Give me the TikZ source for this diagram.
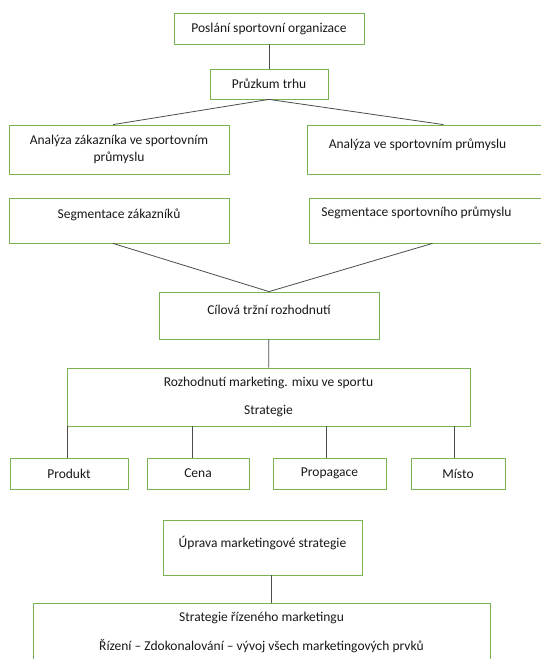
\documentclass[tikz,border=0pt]{standalone}
\usepackage{fontspec}
\setmainfont{Carlito}
\usepackage{xcolor}
\definecolor{BoxGreen}{RGB}{122,180,82}
\colorlet{LineGray}{black!70}
\colorlet{TextGray}{black!90}
\tikzstyle{stepBox}=[draw=BoxGreen,line width=0.8pt,fill=white,inner sep=2pt,text=TextGray,align=center]
\tikzstyle{boxText}=[anchor=center,text=TextGray,align=center]
\tikzstyle{joinLine}=[draw=LineGray,line width=0.8pt]

\begin{document}
\begin{tikzpicture}[x=1pt,y=-1pt,font=\fontsize{13.5}{16}\selectfont]

        \useasboundingbox[fill=white] (0,0) rectangle (541,659);

        % Mission and research
        \node[stepBox, minimum width=190pt, minimum height=31pt] (mission) at (269, 28.5) {Poslání sportovní organizace};
        \node[stepBox, minimum width=118pt, minimum height=30pt] (research) at (269, 84) {Průzkum trhu};

        % Analysis
        \node[stepBox, minimum width=220pt, minimum height=49pt] (custAn) at (119, 149.5) {Analýza zákazníka ve sportovním\\[1pt]průmyslu};
        \node[stepBox, minimum width=253pt, minimum height=49pt,
              label={[boxText, xshift=-16pt, yshift=-20pt]north:Analýza ve sportovním průmyslu}] (indAn) at (433.5, 149.5) {};

        % Segmentation
        \node[stepBox, minimum width=220pt, minimum height=45pt,
              label={[boxText, yshift=-17pt]north:Segmentace zákazníků}] (custSeg) at (119, 220.5) {};
        \node[stepBox, minimum width=251pt, minimum height=45pt,
              label={[boxText, xshift=-18pt, yshift=-15pt]north:Segmentace sportovního průmyslu}] (indSeg) at (434.5, 220.5) {};

        % Target market and mix
        \node[stepBox, minimum width=220pt, minimum height=47pt,
              label={[boxText, yshift=-18pt]north:Cílová tržní rozhodnutí}] (target) at (269, 315.5) {};
        \node[stepBox, minimum width=403pt, minimum height=58pt] (mix) at (268.5, 397) {Rozhodnutí marketing. mixu ve sportu\\[12pt]Strategie};

        \node[stepBox, minimum width=118pt, minimum height=31pt] (product) at (69, 473.5) {Produkt};
        \node[stepBox, minimum width=102pt, minimum height=31pt] (price) at (198, 473.5) {Cena};
        \node[stepBox, minimum width=113pt, minimum height=31pt] (promo) at (329.5, 473.5) {Propagace};
        \node[stepBox, minimum width=94pt, minimum height=31pt] (place) at (458, 473.5) {Místo};

        % Strategy adjustment
        \node[stepBox, minimum width=199pt, minimum height=55pt,
              label={[boxText, yshift=-23pt]north:Úprava marketingové strategie}] (adjust) at (262.5, 547.5) {};
        \node[stepBox, minimum width=457pt, minimum height=77pt,
              label={[boxText, yshift=-15pt]north:Strategie řízeného marketingu},
              label={[boxText, yshift=-44pt]north:Řízení – Zdokonalování – vývoj všech marketingových prvků}] (managed) at (261.5, 641.5) {};

        \draw[joinLine] (mission) -- (research);
        \draw[joinLine] (research.south) -- ([xshift=-6pt]custAn.north);
        \draw[joinLine] (research.south) -- ([xshift=10pt]indAn.north);
        \draw[joinLine] ([xshift=-6pt]custSeg.south) -- (target.north);
        \draw[joinLine] ([xshift=-2pt]indSeg.south) -- (target.north);
        \draw[joinLine] (target) -- (mix);

        \draw[joinLine] ([xshift=-2pt]product.north) -- ([xshift=-2pt]mix.south -| product.north);
        \draw[joinLine] ([xshift=-6pt]price.north) -- ([xshift=-6pt]mix.south -| price.north);
        \draw[joinLine] ([xshift=-3pt]promo.north) -- ([xshift=-3pt]mix.south -| promo.north);
        \draw[joinLine] ([xshift=-4pt]place.north) -- ([xshift=-4pt]mix.south -| place.north);

        \draw[joinLine] ([xshift=8.5pt]adjust.south) -- ([xshift=8.5pt]adjust.south |- managed.north);

\end{tikzpicture}
\end{document}
